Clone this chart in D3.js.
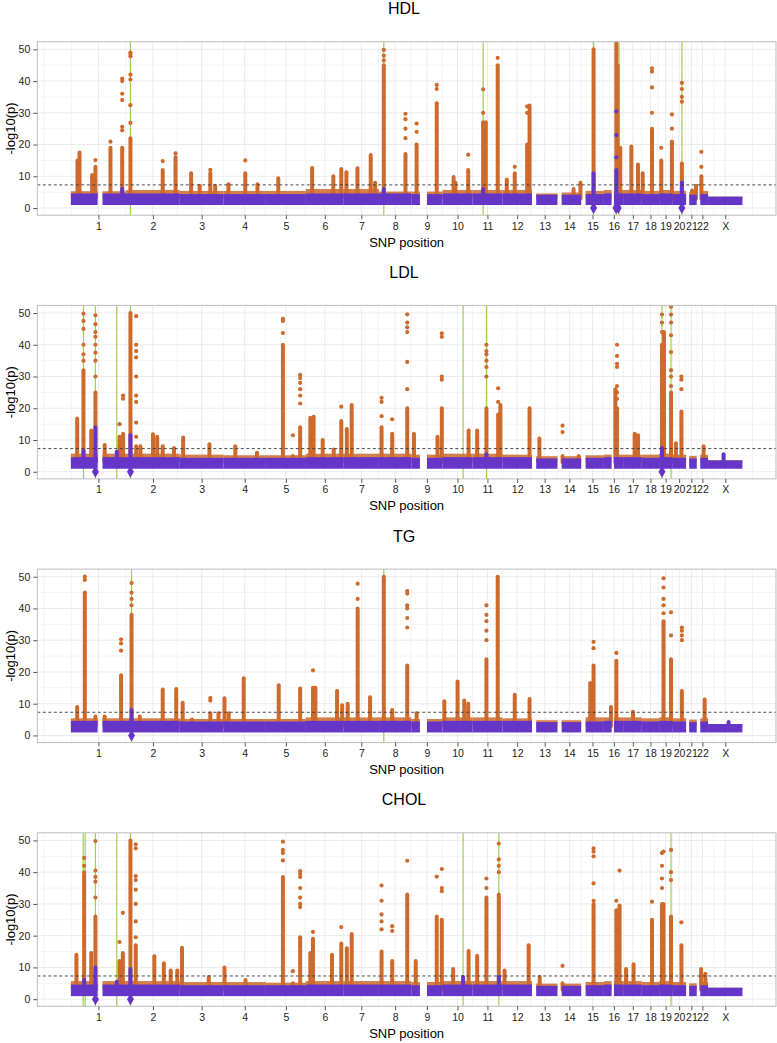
<!DOCTYPE html>
<html><head><meta charset="utf-8">
<script src="https://cdn.jsdelivr.net/npm/d3@7"></script>
<style>body{margin:0;background:#fff} text{font-family:"Liberation Sans",Arial,Helvetica,sans-serif}</style>
</head><body><svg id="c" width="777" height="1043"></svg>
<script>
// ---------------- data ----------------
const traits = ["HDL", "LDL", "TG", "CHOL"];
const chromosomes = ["1","2","3","4","5","6","7","8","9","10","11","12","13","14","15","16","17","18","19","20","21","22","X"];
const chromLengths = [249.3,243.2,198.0,191.2,180.9,171.1,159.1,146.4,141.2,135.5,135.0,133.9,115.2,107.3,102.5,90.4,81.2,78.1,59.1,63.0,48.1,51.3,155.3];
// regions without SNPs (chr, startMb, endMb)
const gaps = [["1",121,143],["9",39,71],["13",0,19],["14",0,19],["15",0,20],["16",35,46],["21",0,14],["22",0,16]];
// top of the dense purple background cloud per chromosome
const bandTop = [4.6,4.6,4.4,4.4,4.4,4.6,4.6,4.6,4.4,4.6,4.6,4.6,4.2,4.2,4.4,4.6,4.6,4.4,4.6,4.4,4.2,4.4,3.6];
const bandBottom = 0.95;
// top of the sparse orange fringe just above the background, per chromosome
const fringeHDL  = [5.3,5.7,5.4,5.4,5.4,6,6,5.2,5.2,5.7,5.7,5.7,4.6,4.9,5.4,5.7,5.7,5.4,5.7,5.4,5,5.4,3.6];
const fringeLDL  = [5.7,5.7,5.4,5.2,5.2,5.7,5.7,5.7,5.4,5.7,5.7,5.4,4.9,4.9,5.2,5.4,5.4,5.4,5.7,5.4,5,5.4,3.6];
const fringeTG   = [5.4,5.4,5.2,5.2,5.2,5.7,5.7,5.7,5.2,5.7,5.7,5.4,4.8,4.8,5.7,5.7,5.7,5.4,5.7,5.4,5,5.4,3.6];
const fringeCHOL = [5.7,5.7,5.4,5.4,5.2,5.7,5.7,5.7,5.4,5.7,5.7,5.7,4.9,4.9,5.4,5.7,5.7,5.4,5.7,5.4,5,5.4,3.6];
// peaks: [chr, posMb, top of dense column, ...isolated higher points]  (-log10 p)
const peaksHDL = [
 ["1",30,15],["1",39,17.5],["1",96,10.4],["1",111,13,15.1],["1",179,19,20.9],["1",232,19,24.5,25.6,34,36,40,40.8],
 ["2",20,22,26.8,32.4,40.5,42,47.8,48.5,49],["2",166,12,14.8],["2",224,16,17.2],
 ["3",51,11],["3",90,7],["3",138,11,12],["3",160,7],
 ["4",22,7.5],["4",98,11,15],["4",153,7.5],["5",56,9.4],
 ["6",28,12.6],["6",124,10],["6",160,12.3],
 ["7",12,11.3],["7",62,12.5],["7",122,16.7],["7",142,8],
 ["8",22,45,46.5,48,49.8],["8",120,17,22,25,28,29.7],
 ["9",24,20,24,26.6],["9",115,33,37.5,38.8],
 ["10",50,9.8],["10",58,8],["10",116,12,16.8],
 ["11",48,27,30,37.4],["11",60,27],["11",114,45,47.3],
 ["12",20,9],["12",56,11,13],["12",112,20,30,32],["12",123,32.3],
 ["14",73,6],["14",104,8],
 ["15",56,50],
 ["16",56.5,52],["16",62,45],["16",74,19],
 ["17",34,19.4],["17",64,13.7],
 ["18",4,11],["18",46,25,30,38,43,44],
 ["19",10,15,19],["19",58,21,25,29.5],
 ["20",44,14,33.5,35,37.5,39.4],
 ["21",27,5.5],["21",45,7],["22",21,10,13,17.7]
];
const peaksLDL = [
 ["1",28.5,16.8],["1",57,32,35,37,40,45,47.5,49.8],["1",92,13],["1",111,25,30,35,37.5,40,42.5,44,46.5,49.3],["1",153,8.4],["1",220,11,15],["1",236,12,23,24],
 ["2",20,50],["2",46,8,11,15.5,22,24,30,36,38,40,49],["2",65,8],["2",122,11.8],["2",141,11],["2",166,8],["2",217,7.5],
 ["3",15,10.8],["3",134,8.7],["4",53,8],["4",151,6],
 ["5",77,40,43.7,47.5,48.2],["5",122,5,11.5],["5",155,14,21.5,24,26,28,29.5,30.5],
 ["6",20,17],["6",35,17.3],["6",76,10],["6",126,7],["6",160,16,20.5],
 ["7",14,13.5],["7",36,21],
 ["8",12,14,17.5,22,23.3],["8",60,12,16.5],["8",128,20,26,34.6,44,45.5,47,49.6],
 ["9",12,12],["9",118.5,11],["9",138,20,29,30,42.5,43.6],
 ["10",118,13],
 ["11",21,13],["11",63,20,30,33,35,37,38,40],["11",116,18,22,26.3],["11",126,21],
 ["12",123,20],["13",33.5,10.5],["14",23,5,12.5,14.5],["14",96,5],
 ["16",52,26],["16",59.5,20,23,25,27,33,34,36.5,40],
 ["17",49,12],["17",64,11.5],
 ["19",13,40,44,47,49.5],["19",22,44],["19",54,25,27,30,32,37.7,43,47,49.5,52],
 ["20",17,9],["20",42,19,26,29,30],["22",31,8]
];
const peaksTG = [
 ["1",28.5,9],["1",63,45,49,50],["1",111,6],["1",153,6],["1",227,19,26.7,29,30.3],
 ["2",25,38,41,43,45,48],["2",62,6],["2",166,14.5],["2",227,14.6],
 ["3",13,10.3],["3",55,5],["3",138,7,11,11.8],["3",175,7],
 ["4",4,11.7],["4",23,7],["4",91,18],
 ["5",58,15.8],["5",155,14.8],
 ["6",32,15,20.5],["6",43,15],["6",141,14],["6",164,9.5],
 ["7",18,10],["7",63,40,43,47.8],["7",119,12],
 ["8",22,50],["8",60,8],["8",128,22,34,37,40,41,44.7,45.5],
 ["9",24,7],
 ["10",8,10.8],["10",68,17],["10",98,11],["10",116,10],
 ["11",63,24,30,33,36,38,41],["11",114,50],
 ["12",56,12.8],["12",123,11.5],
 ["15",41,16.5],["15",56,22,27.5,29.5],
 ["16",32,9],["16",56.5,23.5,26],["17",41.5,7.5],
 ["19",20,36,38.5,41,43,46.6,49.5],["19",54,24,31.5,38.8],
 ["20",44,14,30,31.5,33,34],["22",36,11.3]
];
const peaksCHOL = [
 ["1",25,14],["1",60,40,42,44.5],["1",92,14.5],["1",111,26,32,37,38.5,40.5,49.8],["1",220,12,18],["1",235,14.5,27.2],
 ["2",20,50],["2",44,17,19.5,24.5,30,34.5,37.5,38.8,47.5,48.8],["2",128,13.5],["2",171,11.3],["2",202,9],["2",232,9],
 ["3",10,16.2],["3",131,7],["4",4,10],["4",99,6],
 ["5",77,38.5,43.7,46,47,49.6],["5",122,5,8.8],["5",155,19.5,29,30,32,35,38.5,39.5,40.3],
 ["6",20,14.5],["6",32,19,21.2],["6",118,14],["6",160,17.5,22.7],
 ["7",14,16],["7",36,20.5],
 ["8",12,15,22,24.5,26.7,31,35.8],["8",60,12,21.5,23],["8",128,33,43.6],
 ["9",20,12],["9",115,26,38.6],["9",138,25,34,35,41],
 ["10",48,9.5],["10",118,15.2],
 ["11",21,13.7],["11",63,32,35,38],["11",119,33,40,42,44,49],
 ["12",10,9],["12",119,17],["13",35,7],["14",23,5,10.5],
 ["15",56,30,31,36.5,45,46.5,47.5],
 ["16",56.5,28,31],["16",71,29.5,40.5],
 ["17",10,9.5],["17",44,11],["18",46,25,30.7],
 ["19",13,30,35,38,42,46],["19",20,30,46.5],["19",54,26,37.5,40,47],
 ["20",42,17,24.2],["22",20,9.5],["22",39,8]
];
// purple (background-coloured) points rising above the cloud: [chr, posMb, dense top, ...isolated]
const purpleHDL  = [["1",232,6],["8",22,6],["11",48,6],["15",56,11],["16",56.5,12,16,23,30.5],["20",44,8]];
const purpleLDL  = [["1",57,6.5],["1",111,14],["1",207.5,6.3],["2",20,11.5],["11",63,5.5],["19",13,7.5],["X",70,5.5]];
const purpleTG   = [["2",25,8],["X",92.7,4.2]];
const purpleCHOL = [["1",60,6],["1",111,10],["1",207.5,5.5],["2",20,9.5],["10",93,7],["11",119,7]];
// diamonds at -log10(p) = 0
const diamondsHDL  = [["15",56],["16",55],["16",65],["20",44]];
const diamondsLDL  = [["1",111],["2",20],["19",13]];
const diamondsTG   = [["2",25]];
const diamondsCHOL = [["1",111],["2",20]];
// green vertical markers
const greenHDL  = [["2",20],["8",22],["11",48],["15",56],["16",56.5],["16",68.5],["20",44]];
const greenLDL  = [["1",57],["1",111],["1",207.5],["2",20],["10",93],["11",63],["19",13],["19",54]];
const greenTG   = [["2",25],["8",22]];
const greenCHOL = [["1",55.6],["1",64.6],["1",111],["1",207.5],["2",20],["10",93],["11",119],["19",54]];
const yTicks = [0,10,20,30,40,50];
const yMinor = [5,15,25,35,45];
const threshold = 7.3;

const panels = [
 {title:"HDL", fringe:fringeHDL, peaks:peaksHDL, purple:purpleHDL, diamonds:diamondsHDL, green:greenHDL},
 {title:"LDL", fringe:fringeLDL, peaks:peaksLDL, purple:purpleLDL, diamonds:diamondsLDL, green:greenLDL},
 {title:"TG", fringe:fringeTG, peaks:peaksTG, purple:purpleTG, diamonds:diamondsTG, green:greenTG},
 {title:"CHOL", fringe:fringeCHOL, peaks:peaksCHOL, purple:purpleCHOL, diamonds:diamondsCHOL, green:greenCHOL}
];

// ---------------- drawing ----------------
const ORANGE = "#cd6a2c", PURPLE = "#6535c8", GREEN = "#9fcf50";
const svg = d3.select("#c");
const cumStart = {}; let acc = 0;
chromosomes.forEach((c,i)=>{ cumStart[c]=acc; acc+=chromLengths[i]; });
const total = acc;
const gp = (c,p)=>cumStart[c]+p;
const left = 37.3, right = 776, top0 = 41.7, step = 263.7, ph = 173.5;
const x = d3.scaleLinear().domain([-0.05*total, 1.05*total]).range([left, right]);
const mids = chromosomes.map((c,i)=>cumStart[c]+chromLengths[i]/2);
// ggplot-style minor breaks
const bd = mids[1]-mids[0];
const ext = [mids[0]-bd, ...mids, mids[mids.length-1]+bd];
const xMinor = [];
for (let i=0;i<ext.length-1;i++){ const m=(ext[i]+ext[i+1])/2; if (m>x.domain()[0] && m<x.domain()[1]) xMinor.push(m); }
if (ext[0]>x.domain()[0]) xMinor.push(ext[0]);

// covered segments per chromosome
const segments = [];
chromosomes.forEach((c,i)=>{
  let pieces=[[0,chromLengths[i]]];
  gaps.filter(g=>g[0]===c).forEach(g=>{
    const np=[]; pieces.forEach(([a,b])=>{ if (g[2]<=a||g[1]>=b) np.push([a,b]); else { if (g[1]>a) np.push([a,g[1]]); if (g[2]<b) np.push([g[2],b]); } });
    pieces=np;
  });
  pieces.forEach(([a,b])=>segments.push({c, i, a, b}));
});

panels.forEach((P,k)=>{
  const top = top0 + k*step;
  const y = d3.scaleLinear().domain([-2.25, 52.4]).range([top+ph, top]);
  const g = svg.append("g");
  const cid = "clip"+k;
  svg.append("clipPath").attr("id",cid).append("rect").attr("x",left).attr("y",top).attr("width",right-left).attr("height",ph);
  // grid
  g.selectAll(".hmin").data(yMinor).join("line").attr("x1",left).attr("x2",right).attr("y1",d=>y(d)).attr("y2",d=>y(d)).attr("stroke","#f4f4f4").attr("stroke-width",1);
  g.selectAll(".vmin").data(xMinor).join("line").attr("y1",top).attr("y2",top+ph).attr("x1",d=>x(d)).attr("x2",d=>x(d)).attr("stroke","#f3f3f3").attr("stroke-width",1);
  g.selectAll(".hmaj").data(yTicks).join("line").attr("x1",left).attr("x2",right).attr("y1",d=>y(d)).attr("y2",d=>y(d)).attr("stroke","#ebebeb").attr("stroke-width",1);
  g.selectAll(".vmaj").data(mids).join("line").attr("y1",top).attr("y2",top+ph).attr("x1",d=>x(d)).attr("x2",d=>x(d)).attr("stroke","#ebebeb").attr("stroke-width",1);

  const d = g.append("g").attr("clip-path",`url(#${cid})`);
  // green markers
  d.selectAll(".gl").data(P.green).join("line").attr("x1",v=>x(gp(v[0],v[1]))).attr("x2",v=>x(gp(v[0],v[1]))).attr("y1",top).attr("y2",top+ph).attr("stroke",GREEN).attr("stroke-width",1.2);
  // orange fringe
  d.selectAll(".fr").data(segments).join("rect").attr("x",s=>x(cumStart[s.c]+s.a)).attr("width",s=>x(cumStart[s.c]+s.b)-x(cumStart[s.c]+s.a))
    .attr("y",s=>y(P.fringe[s.i])).attr("height",s=>y(3)-y(P.fringe[s.i])).attr("fill",ORANGE).attr("fill-opacity",0.85);
  // orange peaks
  const drawCols = (data,color)=>{
    d.append("g").selectAll("line").data(data).join("line")
      .attr("x1",v=>x(gp(v[0],v[1]))).attr("x2",v=>x(gp(v[0],v[1])))
      .attr("y1",y(3)).attr("y2",v=>y(v[2])).attr("stroke",color).attr("stroke-width",4).attr("stroke-linecap","round");
    const pts=[]; data.forEach(v=>v.slice(3).forEach(h=>pts.push([v[0],v[1],h])));
    d.append("g").selectAll("circle").data(pts).join("circle").attr("cx",v=>x(gp(v[0],v[1]))).attr("cy",v=>y(v[2])).attr("r",2.1).attr("fill",color);
  };
  drawCols(P.peaks, ORANGE);
  // purple background cloud
  d.selectAll(".bd").data(segments).join("rect").attr("x",s=>x(cumStart[s.c]+s.a)).attr("width",s=>x(cumStart[s.c]+s.b)-x(cumStart[s.c]+s.a))
    .attr("y",s=>y(bandTop[s.i])).attr("height",s=>y(bandBottom)-y(bandTop[s.i])).attr("fill",PURPLE);
  drawCols(P.purple, PURPLE);
  d.selectAll(".dm").data(P.diamonds).join("path").attr("d",d3.symbol(d3.symbolDiamond,42))
    .attr("transform",v=>`translate(${x(gp(v[0],v[1]))},${y(0)})`).attr("fill",PURPLE);
  // threshold
  d.append("line").attr("x1",left).attr("x2",right).attr("y1",y(threshold)).attr("y2",y(threshold)).attr("stroke","#3a3a3a").attr("stroke-width",0.9).attr("stroke-dasharray","3,2.5");
  // border
  g.append("rect").attr("x",left).attr("y",top).attr("width",right-left).attr("height",ph).attr("fill","none").attr("stroke","#bdbdbd").attr("stroke-width",1);
  // axes
  const ya = g.append("g").attr("transform",`translate(${left},0)`).call(d3.axisLeft(y).tickValues(yTicks).tickSize(4).tickPadding(3));
  const xa = g.append("g").attr("transform",`translate(0,${top+ph})`).call(d3.axisBottom(x).tickValues(mids).tickFormat((v,i)=>chromosomes[i]).tickSize(4).tickPadding(3));
  [ya,xa].forEach(a=>{ a.select(".domain").remove(); a.selectAll("line").attr("stroke","#555"); a.selectAll("text").attr("fill","#222").style("font-size","10.5px").style("font-family","'Liberation Sans',Arial,sans-serif"); });
  // titles
  g.append("text").attr("x",404).attr("y",top-27.5).attr("text-anchor","middle").style("font-size","16px").attr("fill","#000").text(P.title);
  g.append("text").attr("x",(left+right)/2).attr("y",top+ph+31.5).attr("text-anchor","middle").style("font-size","13px").attr("fill","#000").text("SNP position");
  g.append("text").attr("transform",`translate(15,${top+ph/2}) rotate(-90)`).attr("text-anchor","middle").style("font-size","13px").attr("fill","#000").text("-log10(p)");
});
</script></body></html>
